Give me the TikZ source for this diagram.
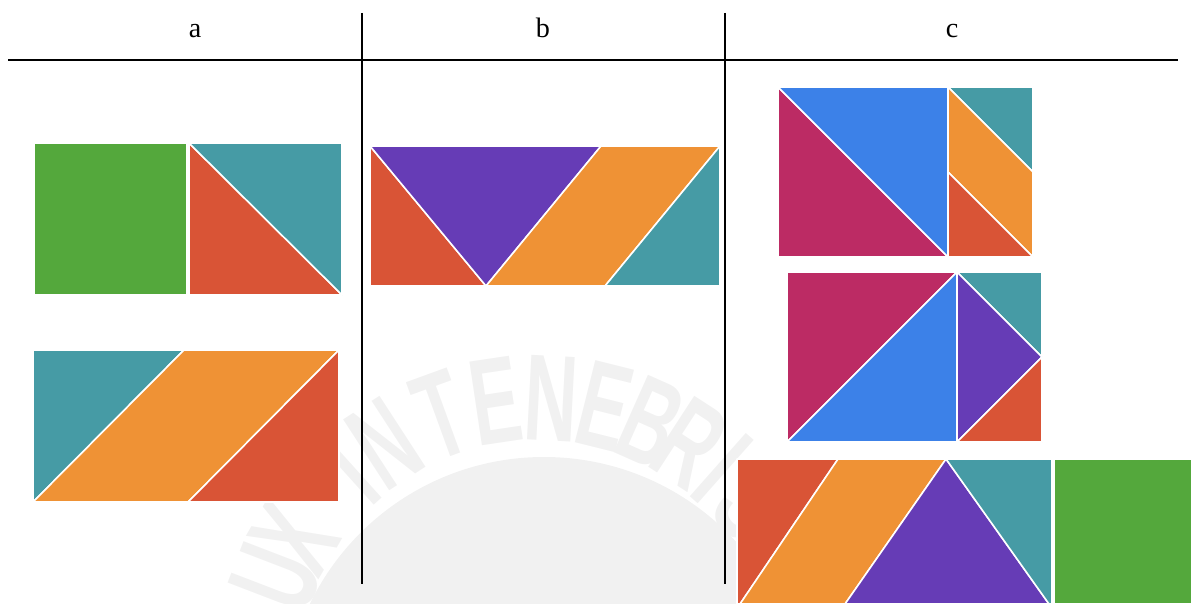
\documentclass[tikz,border=0pt]{standalone}
\usepackage{fontspec}
\setmainfont{Liberation Serif}
\newfontfamily\sealfont{Liberation Sans}
\usetikzlibrary{positioning}
\definecolor{tgreen}{HTML}{54A83C}
\definecolor{tteal}{HTML}{469BA5}
\definecolor{tred}{HTML}{D95436}
\definecolor{torange}{HTML}{EF9235}
\definecolor{tpurple}{HTML}{663CB6}
\definecolor{tblue}{HTML}{3C81E8}
\definecolor{tmagenta}{HTML}{BC2B64}
\definecolor{sealgray}{HTML}{F1F1F1}
\tikzset{
  piece/.style={draw=white,line width=0.9pt,line join=round},
  rule/.style={draw=black,line width=1.1pt},
  colhead/.style={font=\fontsize{16}{18}\selectfont,inner sep=0pt,anchor=base},
  sealletter/.style={text=sealgray,font=\sealfont\bfseries\fontsize{70}{70}\selectfont,inner sep=0pt,xscale=0.6},
}

\begin{document}
\begin{tikzpicture}[x=0.02cm,y=-0.02cm]
  \useasboundingbox (0,0) rectangle (1192,604);
  % watermark seal
  \coordinate (sealdisk) at (544,717);
  \coordinate (sealtop) at (537,678);
  \fill[sealgray] (sealdisk) circle[radius=260];
  \foreach \ch/\a [count=\i] in {L/169,U/159,X/150,I/132,N/123,T/110,E/98.5,N/87,E/76,B/66,R/57,I/48.5,S/39}
    \node[rotate=\a-90,sealletter] (seal-\i) at ([shift={(\a:5.6cm)}]sealtop) {\ch};
  % table rules and heads
  \draw[rule] (8,60) -- (1178,60);
  \draw[rule] (362,13) -- (362,584);
  \draw[rule] (725,13) -- (725,584);
  \node[colhead] (head-a) at (195,38) {a};
  \node[colhead] (head-b) at (543,38) {b};
  \node[colhead] (head-c) at (952,38) {c};
  % a, top
  \draw[piece,fill=tgreen] (34,143) rectangle (187,295);
  \draw[piece,fill=tred] (189,143) -- (189,295) -- (342,295) -- cycle;
  \draw[piece,fill=tteal] (189,143) -- (342,143) -- (342,295) -- cycle;
  % a, bottom
  \draw[piece,fill=tteal] (33,350) -- (184,350) -- (33,502) -- cycle;
  \draw[piece,fill=torange] (184,350) -- (339,350) -- (188,502) -- (33,502) -- cycle;
  \draw[piece,fill=tred] (339,350) -- (339,502) -- (188,502) -- cycle;
  % b
  \draw[piece,fill=tred] (370,146) -- (370,286) -- (486,286) -- cycle;
  \draw[piece,fill=tpurple] (370,146) -- (601,146) -- (486,286) -- cycle;
  \draw[piece,fill=torange] (601,146) -- (720,146) -- (605,286) -- (486,286) -- cycle;
  \draw[piece,fill=tteal] (720,146) -- (720,286) -- (605,286) -- cycle;
  % c, top
  \draw[piece,fill=tmagenta] (778,87) -- (778,257) -- (948,257) -- cycle;
  \draw[piece,fill=tblue] (778,87) -- (948,87) -- (948,257) -- cycle;
  \draw[piece,fill=tteal] (948,87) -- (1033,87) -- (1033,172) -- cycle;
  \draw[piece,fill=torange] (948,87) -- (1033,172) -- (1033,257) -- (948,172) -- cycle;
  \draw[piece,fill=tred] (948,172) -- (948,257) -- (1033,257) -- cycle;
  % c, middle
  \draw[piece,fill=tmagenta] (787,272) -- (957,272) -- (787,442) -- cycle;
  \draw[piece,fill=tblue] (957,272) -- (957,442) -- (787,442) -- cycle;
  \draw[piece,fill=tteal] (957,272) -- (1042,272) -- (1042,357) -- cycle;
  \draw[piece,fill=tpurple] (957,272) -- (1042,357) -- (957,442) -- cycle;
  \draw[piece,fill=tred] (1042,357) -- (1042,442) -- (957,442) -- cycle;
  % c, bottom
  \draw[piece,fill=tred] (737,459) -- (838,459) -- (740,604) -- (737,604) -- cycle;
  \draw[piece,fill=torange] (838,459) -- (946,459) -- (845,604) -- (740,604) -- cycle;
  \draw[piece,fill=tpurple] (946,459) -- (1049,604) -- (845,604) -- cycle;
  \draw[piece,fill=tteal] (946,459) -- (1052,459) -- (1052,604) -- (1049,604) -- cycle;
  \draw[piece,fill=tgreen] (1054,459) rectangle (1192,604);
\end{tikzpicture}
\end{document}
